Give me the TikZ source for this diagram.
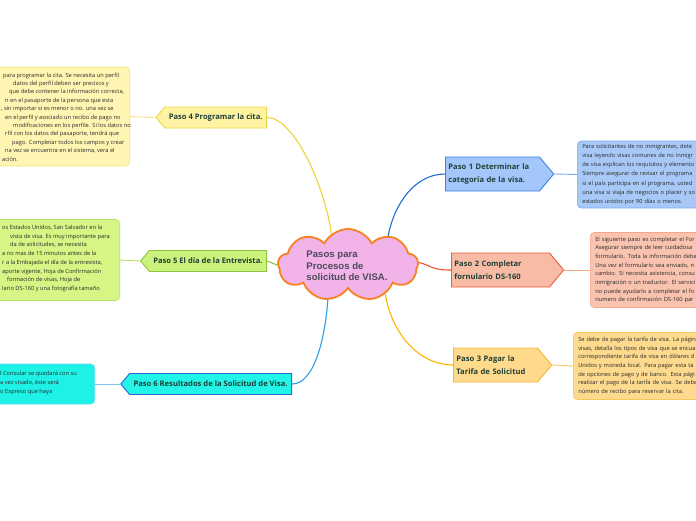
\documentclass[tikz,border=0pt]{standalone}
\usepackage{fontspec}
\setmainfont{Open Sans}
\newfontfamily\cloudfont{Liberation Sans}
\usetikzlibrary{shapes.symbols}
\definecolor{yelFill}{HTML}{FFF3A3}
\definecolor{yelDraw}{HTML}{E9D64A}
\definecolor{yelLine}{HTML}{F0D23A}
\definecolor{yelNote}{HTML}{FFF5B3}
\definecolor{yelNoteD}{HTML}{F6E27E}
\definecolor{grnFill}{HTML}{CDF27C}
\definecolor{grnDraw}{HTML}{8CC63F}
\definecolor{grnNote}{HTML}{D6F585}
\definecolor{grnNoteD}{HTML}{B6E063}
\definecolor{cyaFill}{HTML}{22F5E8}
\definecolor{cyaDraw}{HTML}{2A66D9}
\definecolor{cyaLine}{HTML}{2E9CE6}
\definecolor{cyaNote}{HTML}{1EF2E6}
\definecolor{cyaNoteD}{HTML}{5FD8F0}
\definecolor{bluFill}{HTML}{A3C7FB}
\definecolor{bluDraw}{HTML}{3C82E6}
\definecolor{bluLine}{HTML}{1E6FD0}
\definecolor{bluNote}{HTML}{A8C9F8}
\definecolor{bluNoteD}{HTML}{7FA9F0}
\definecolor{redFill}{HTML}{F8BBA6}
\definecolor{redDraw}{HTML}{F05A3A}
\definecolor{redLine}{HTML}{EE5533}
\definecolor{redNote}{HTML}{F9C3B0}
\definecolor{redNoteD}{HTML}{F5A58A}
\definecolor{oraFill}{HTML}{FFD98C}
\definecolor{oraDraw}{HTML}{F8B733}
\definecolor{oraLine}{HTML}{FFB400}
\definecolor{oraNote}{HTML}{FDDA8E}
\definecolor{oraNoteD}{HTML}{F8C65C}
\definecolor{cloudPink}{HTML}{F2B3E8}
\definecolor{cloudOrange}{HTML}{F7821E}
\definecolor{stepText}{HTML}{1F3F36}
\definecolor{noteText}{HTML}{2A2A2A}
\definecolor{cloudText}{HTML}{4D4A5C}
\newcommand\notefont{\fontsize{5.7}{8.7}\selectfont}
\newcommand\stepfont{\fontsize{7.6}{13}\selectfont\bfseries}
\begin{document}
\begin{tikzpicture}[x=1pt,y=-1pt,
  stepL/.style={signal, signal to=west, signal pointer angle=100, font=\stepfont, text=stepText, line width=0.9pt, minimum height=21, inner xsep=4, inner ysep=0},
  stepR/.style={signal, signal to=east, signal pointer angle=100, font=\stepfont, text=stepText, line width=0.9pt, minimum height=34, inner xsep=3, inner ysep=0, align=left},
  note/.style={rectangle, rounded corners=4pt, line width=0.6pt, font=\notefont, text=noteText, align=left, inner xsep=5, inner ysep=0},
  noteBox/.style={rectangle, rounded corners=4pt, line width=0.6pt, inner sep=0},
  noteTxt/.style={font=\notefont, text=noteText, align=left, inner sep=0, anchor=west},
  conn/.style={line width=1.1pt},
  branch/.style={line width=0.9pt}]
\useasboundingbox (0,0) rectangle (696,520);
\clip (0,0) rectangle (696,520);
\fill[white] (0,0) rectangle (696,520);

% central cloud
\node[cloud, cloud puffs=9, cloud puff arc=125, aspect=1.9, minimum width=140, minimum height=72, fill=cloudPink, draw=cloudOrange, line width=1.8pt] (c) at (348,265) {};
\node[align=left, font=\cloudfont\bfseries\fontsize{9.6}{11.6}\selectfont, text=cloudText] (ct) at (347,266) {Pasos para\\Procesos de\\solicitud de VISA.};

% steps
\node[stepL, fill=yelFill, draw=yelDraw, anchor=east] (p4) at (267,117.5) {Paso 4 Programar la cita.};
\node[stepL, fill=grnFill, draw=grnDraw, anchor=east] (p5) at (267,261) {Paso 5 El día de la Entrevista.};
\node[stepL, fill=cyaFill, draw=cyaDraw, anchor=east] (p6) at (292,384) {Paso 6 Resultados de la Solicitud de Visa.};
\node[stepR, fill=bluFill, draw=bluDraw, anchor=west, text width=88] (p1) at (445,174) {Paso 1 Determinar la\\categoría de la visa.};
\node[stepR, fill=redFill, draw=redDraw, anchor=west, text width=92] (p2) at (451,270) {Paso 2 Completar\\fornulario DS-160};
\node[stepR, fill=oraFill, draw=oraDraw, anchor=west, text width=78] (p3) at (453,365) {Paso 3 Pagar la\\Tarifa de Solicitud};

% notes, left side (cut by the left edge)
\node[noteBox, fill=yelNote, draw=yelNoteD, anchor=east, minimum width=140, minimum height=99] (n4) at (130,116.5) {};
\node[noteTxt, font=\fontsize{5.7}{8.4}\selectfont] (t4) at (-1,117) {%
\hspace*{4pt}para programar la cita. Se necesita un perfil\\
\hspace*{14pt}datos del perfil deben ser precisos y\\
\hspace*{10pt}que debe contener la información correcta,\\
\hspace*{6pt}n en el pasaporte de la persona que esta\\
\hspace*{2pt}, sin importar si es menor o no. una vez se\\
\hspace*{6pt}en el perfil y asociado un recibo de pago no\\
\hspace*{14pt}modificaciones en los perfile. Si los datos no\\
\hspace*{6pt}rfil con los datos del pasaporte, tendrá que\\
\hspace*{13pt}pago.  Completar todos los campos y crear\\
\hspace*{6pt}na vez se encuentra en el sistema, vera el\\
\hspace*{3pt}ación.};
\node[noteBox, fill=grnNote, draw=grnNoteD, anchor=east, minimum width=130, minimum height=81] (n5) at (120,260) {};
\node[noteTxt] (t5) at (-1,258.5) {%
\hspace*{3pt}os Estados Unidos, San Salvador en la\\
\hspace*{11pt}vista de visa. Es muy importante para\\
\hspace*{11pt}da de solicitudes, se necesita\\
\hspace*{3pt}a no mas de 15 minutos antes de la\\
\hspace*{3pt}r a la Embajada el día de la entrevista,\\
\hspace*{3pt}aporte vigente, Hoja de Confirmación\\
\hspace*{8pt}formación de visas, Hoja de\\
\hspace*{3pt}lario DS-160 y una fotografía tamaño};
\node[noteBox, fill=cyaNote, draw=cyaNoteD, anchor=east, minimum width=105, minimum height=40] (n6) at (95,384) {};
\node[noteTxt, font=\fontsize{5.7}{9.3}\selectfont] (t6) at (-1,383) {%
\hspace*{1pt}l Consular se quedará con su\\
\hspace*{1pt}a vez visado, éste será\\
\hspace*{1pt}o Expreso que haya};

% notes, right side (cut by the right edge)
\node[note, fill=bluNote, draw=bluNoteD, anchor=west, minimum height=67, text width=200, font=\fontsize{5.7}{9.1}\selectfont] (n1) at (577,174.5) {%
Para solicitantes de no inmigrantes, dete\\
visa leyendo visas comunes de no inmigr\\
de visa explican los requisitos y elemento\\
Siempre asegurar de revisar el programa\\
si el país participa en el programa, usted\\
una visa si viaja de negocios o placer y so\\
estados unidos por 90 días o menos.};
\node[note, fill=redNote, draw=redNoteD, anchor=west, minimum height=75, text width=200] (n2) at (590,270) {%
El siguiente paso es completar el For\\
Asegurar siempre de leer cuidadosa\\
formulario. Toda la información debe\\
Una vez el formulario sea enviado, n\\
cambio. Si necesita asistencia, consu\\
inmigración o un traductor. El servici\\
no puede ayudarlo a completar el fo\\
numero de confirmación DS-160 par};
\node[note, fill=oraNote, draw=oraNoteD, anchor=west, minimum height=67, text width=200] (n3) at (573,366) {%
Se debe de pagar la tarifa de visa. La págin\\
visas, detalla los tipos de visa que se encua\\
correspondiente tarifa de visa en dólares d\\
Unidos y moneda local. Para pagar esta ta\\
de opciones de pago y de banco. Esta pági\\
realizar el pago de la tarifa de visa. Se debe\\
número de recibo para reservar la cita.};

% connectors from cloud to steps
\draw[conn, yelLine] (p4.east) .. controls +(28,0) and +(-6,-45) .. (c.118);
\draw[conn, grnDraw] (p5.east) -- (c.180);
\draw[conn, cyaLine] (p6.east) .. controls +(22,0) and +(-3,40) .. (c.-120);
\draw[conn, bluLine] (c.36) .. controls +(6,-32) and +(-30,0) .. (p1.west);
\draw[conn, redLine] (c.2) .. controls +(15,4) and +(-20,0) .. (p2.west);
\draw[conn, oraLine] (c.-38) .. controls +(6,38) and +(-35,0) .. (p3.west);

% branches from steps to notes
\draw[branch, yelNoteD] (p4.west) -- (n4.east);
\draw[branch, grnNoteD] (p5.west) -- (n5.east);
\draw[branch, cyaLine!60] (p6.west) -- (n6.east);
\draw[branch, bluNoteD] (p1.east) -- (n1.west);
\draw[branch, redNoteD] (p2.east) -- (n2.west);
\draw[branch, oraNoteD] (p3.east) -- (n3.west);
\end{tikzpicture}
\end{document}
